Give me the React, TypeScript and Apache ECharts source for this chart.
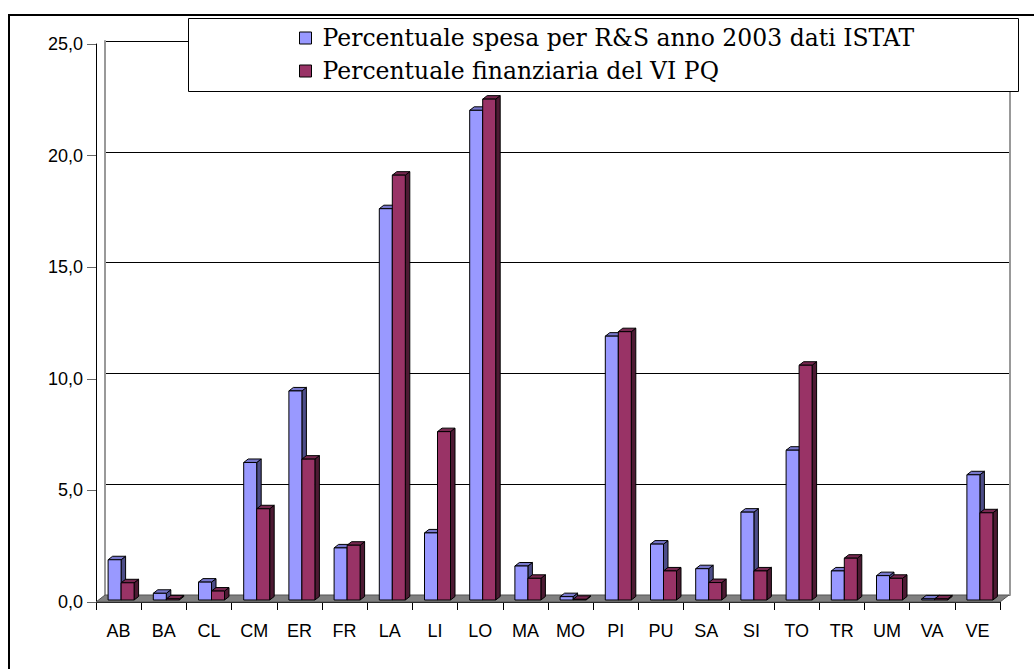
import React, { useEffect, useRef } from "react";
import * as echarts from "echarts";

const categories = ["AB","BA","CL","CM","ER","FR","LA","LI","LO","MA","MO","PI","PU","SA","SI","TO","TR","UM","VA","VE"];
const spesaRS = [1.8,0.3,0.8,6.15,9.35,2.33,17.5,3.0,21.9,1.52,0.15,11.8,2.5,1.4,3.93,6.7,1.3,1.09,0.05,5.6];
const finanzVIPQ = [0.77,0.05,0.4,4.08,6.3,2.45,19.0,7.53,22.4,0.97,0.03,12.0,1.3,0.78,1.3,10.5,1.87,0.97,0.05,3.9];
const seriesNames = ["Percentuale spesa per R&S anno 2003 dati ISTAT", "Percentuale finanziaria del VI PQ"];
const yTicks = [0, 5, 10, 15, 20, 25];

const palette = [
  { front: "#9999ff", side: "#4d4d88", top: "#7777cc" },
  { front: "#993366", side: "#4d1a33", top: "#772850" },
];

function makeRender(sideIdx: number) {
  return (params: any, api: any) => {
    const idx = api.value(0);
    const v = api.value(1);
    const topPt = api.coord([idx, v]);
    const basePt = api.coord([idx, 0]);
    const w = 13, shift = 2.5, dx = 4.5, dy = -3.5;
    const x0 = sideIdx === 0 ? topPt[0] - w + shift : topPt[0] + shift;
    const x1 = x0 + w;
    const yT = topPt[1], yB = basePt[1];
    const c = palette[sideIdx];
    const st = { stroke: "#000", lineWidth: 1 };
    return {
      type: "group",
      children: [
        { type: "polygon", shape: { points: [[x1, yT], [x1 + dx, yT + dy], [x1 + dx, yB + dy], [x1, yB]] }, style: { fill: c.side, ...st } },
        { type: "polygon", shape: { points: [[x0, yT], [x0 + dx, yT + dy], [x1 + dx, yT + dy], [x1, yT]] }, style: { fill: c.top, ...st } },
        { type: "rect", shape: { x: x0, y: yT, width: w, height: yB - yT }, style: { fill: c.front, ...st } },
      ],
    };
  };
}

export default function App() {
  const ref = useRef<HTMLDivElement>(null);
  useEffect(() => {
    if (!ref.current) return;
    const chart = echarts.init(ref.current, null, { renderer: "svg" });
    const fmt = (v: number) => v.toFixed(1).replace(".", ",");
    const axisFont = { fontFamily: "Liberation Sans", fontSize: 18, color: "#000" };
    chart.setOption({
      animation: false,
      backgroundColor: "#fff",
      grid: [
        { left: 105, right: 24, top: 41, bottom: 74 },
        { left: 96, right: 34, top: 44, bottom: 67 },
        { left: 96, right: 34, top: 41, bottom: 69 },
      ],
      xAxis: [
        { type: "category", gridIndex: 0, data: categories, show: false },
        {
          type: "category", gridIndex: 1, data: categories,
          axisLine: { show: true, lineStyle: { color: "#000", width: 1 } },
          axisTick: { show: true, length: 8, lineStyle: { color: "#000" } },
          axisLabel: { ...axisFont, margin: 20, interval: 0 },
        },
        { type: "category", gridIndex: 2, data: categories, show: false },
      ],
      yAxis: [
        {
          type: "value", gridIndex: 0, min: 0, max: 25, interval: 5,
          axisLine: { show: true, lineStyle: { color: "#999", width: 2 } },
          axisTick: { show: false }, axisLabel: { show: false },
          splitLine: { show: true, lineStyle: { color: "#000", width: 1 } },
        },
        {
          type: "value", gridIndex: 1, min: 0, max: 25, interval: 5,
          axisLine: { show: true, lineStyle: { color: "#000", width: 1 } },
          axisTick: { show: true, length: 9, lineStyle: { color: "#666" } },
          axisLabel: { ...axisFont, margin: 13, formatter: (v: number) => (yTicks.includes(v) ? fmt(v) : "") },
          splitLine: { show: false },
        },
        { type: "value", gridIndex: 2, min: 0, max: 25, show: false, splitLine: { show: false } },
        {
          type: "value", gridIndex: 0, min: 0, max: 25, position: "right",
          axisLine: { show: true, lineStyle: { color: "#999", width: 2 } },
          axisTick: { show: false }, axisLabel: { show: false }, splitLine: { show: false },
        },
      ],
      legend: {
        orient: "vertical", left: 299, top: 25, itemWidth: 12, itemHeight: 12, itemGap: 7,
        padding: 0, z: 20,
        data: seriesNames.map((n) => ({ name: n, icon: "rect" })),
        itemStyle: { borderColor: "#000", borderWidth: 1 },
        textStyle: { fontFamily: "DejaVu Serif", fontSize: 23.5, lineHeight: 26, color: "#000", padding: [0, 0, 0, 6] },
        selectedMode: false,
      },
      graphic: [
        { type: "rect", z: 0, silent: true, shape: { x: 9, y: 15, width: 1100, height: 800 }, style: { fill: "none", stroke: "#000", lineWidth: 2 } },
        { type: "polygon", z: 1, silent: true, shape: { points: [[96, 602], [1000, 602], [1009, 595], [105, 595]] }, style: { fill: "#808080", stroke: "#555", lineWidth: 1 } },
        { type: "rect", z: 15, silent: true, shape: { x: 188.5, y: 18.5, width: 830, height: 73 }, style: { fill: "#fff", stroke: "#000", lineWidth: 1 } },
      ],
      series: [
        {
          type: "custom", name: seriesNames[0], xAxisIndex: 2, yAxisIndex: 2, z: 5,
          itemStyle: { color: palette[0].front },
          renderItem: makeRender(0),
          data: spesaRS.map((v, i) => [i, v]),
        },
        {
          type: "custom", name: seriesNames[1], xAxisIndex: 2, yAxisIndex: 2, z: 6,
          itemStyle: { color: palette[1].front },
          renderItem: makeRender(1),
          data: finanzVIPQ.map((v, i) => [i, v]),
        },
      ],
    });
    return () => chart.dispose();
  }, []);
  return <div ref={ref} style={{ position: "fixed", left: 0, top: 0, width: 1034, height: 669 }} />;
}
